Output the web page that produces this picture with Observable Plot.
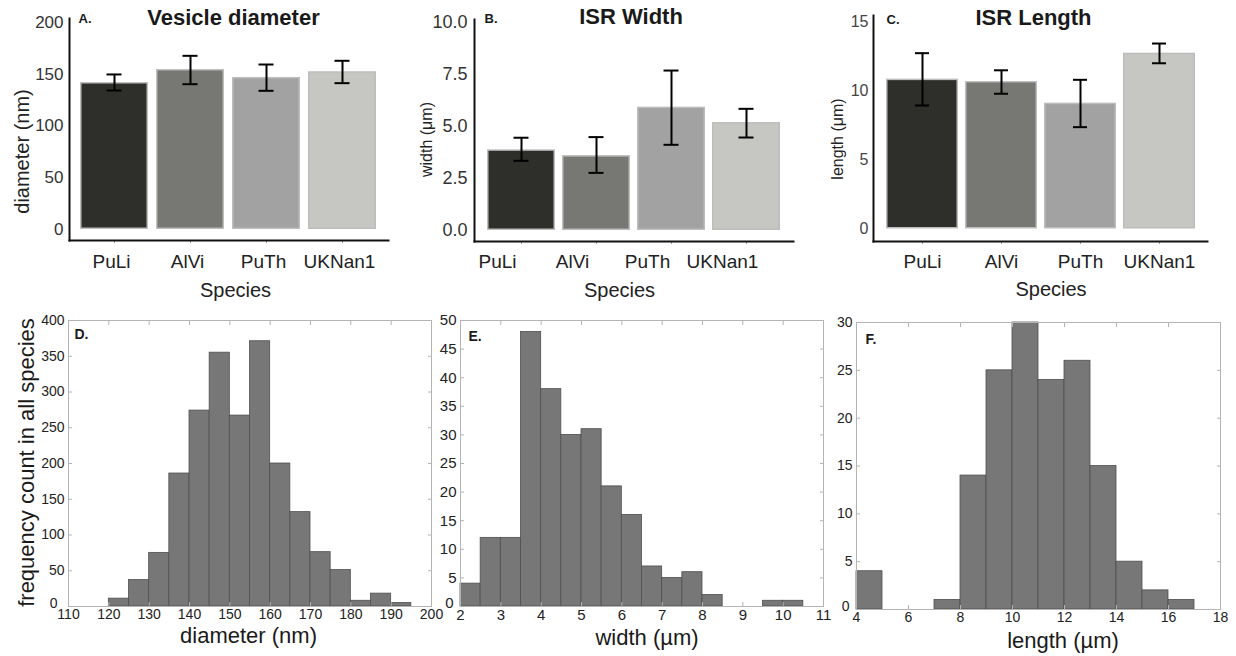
<!DOCTYPE html>
<html><head><meta charset="utf-8">
<script src="https://cdn.jsdelivr.net/npm/d3@7"></script>
<script src="https://cdn.jsdelivr.net/npm/@observablehq/plot@0.6"></script>
<style>
html,body{margin:0;padding:0;background:#fff;}
#root{position:relative;width:1236px;height:656px;overflow:hidden;background:#fff;}
#root svg{position:absolute;overflow:visible;background:none;}
</style></head><body><div id="root"></div>
<script>
// ---------- data ----------
const species = ["PuLi", "AlVi", "PuTh", "UKNan1"];
const barColors = ["#2e2f2a", "#777873", "#a2a2a2", "#c6c7c2"];

const diamMean = [142, 154.6, 146.9, 152.4];
const diamLo   = [134.3, 140.4, 134, 141.4];
const diamHi   = [149.8, 167.8, 159.4, 163];
const diamTicks = [0, 50, 100, 150, 200];

const widthMean = [3.88, 3.6, 5.93, 5.19];
const widthLo   = [3.35, 2.77, 4.12, 4.47];
const widthHi   = [4.46, 4.49, 7.69, 5.85];
const widthTicks = [0, 2.5, 5, 7.5, 10];

const lengthMean = [10.86, 10.69, 9.12, 12.74];
const lengthLo   = [8.95, 9.8, 7.38, 12.01];
const lengthHi   = [12.74, 11.5, 10.81, 13.44];
const lengthTicks = [0, 5, 10, 15];

const diamBinStart = [110, 115, 120, 125, 130, 135, 140, 145, 150, 155, 160, 165, 170, 175, 180, 185, 190];
const diamBinCount = [0, 0, 11, 37, 75, 186, 274, 355, 267, 371, 200, 132, 76, 51, 8, 18, 5];
const diamBinWidth = 5;
const diamHistXTicks = [110, 120, 130, 140, 150, 160, 170, 180, 190, 200];
const diamHistYTicks = [0, 50, 100, 150, 200, 250, 300, 350, 400];

const widthBinStart = [2, 2.5, 3, 3.5, 4, 4.5, 5, 5.5, 6, 6.5, 7, 7.5, 8, 8.5, 9, 9.5, 10];
const widthBinCount = [4, 12, 12, 48, 38, 30, 31, 21, 16, 7, 5, 6, 2, 0, 0, 1, 1];
const widthBinWidth = 0.5;
const widthHistXTicks = [2, 3, 4, 5, 6, 7, 8, 9, 10, 11];
const widthHistYTicks = [0, 5, 10, 15, 20, 25, 30, 35, 40, 45, 50];

const lengthBinStart = [4, 5, 6, 7, 8, 9, 10, 11, 12, 13, 14, 15, 16];
const lengthBinCount = [4, 0, 0, 1, 14, 25, 30, 24, 26, 15, 5, 2, 1];
const lengthBinWidth = 1;
const lengthHistXTicks = [4, 6, 8, 10, 12, 14, 16, 18];
const lengthHistYTicks = [0, 5, 10, 15, 20, 25, 30];

// ---------- layout helpers ----------
const FONT = '"Liberation Sans", Arial, Helvetica, sans-serif';
const root = document.getElementById("root");
function dims(box, f) {
  return {
    width: box.w, height: box.h,
    marginLeft: f.x0 - box.left, marginRight: box.left + box.w - f.x1,
    marginTop: f.y0 - box.top, marginBottom: box.top + box.h - f.y1
  };
}
function place(svg, box) {
  svg.style.left = box.left + "px";
  svg.style.top = box.top + "px";
  root.appendChild(svg);
}
function label(str, opts) {
  return Plot.text([str], {text: d => d, lineAnchor: "middle", ...opts});
}

function barPanel(c) {
  const data = species.map((s, i) => ({species: s, mean: c.mean[i], lo: c.lo[i], hi: c.hi[i]}));
  const svg = Plot.plot({
    ...dims(c.box, c.frame),
    style: {fontFamily: FONT, background: "none", overflow: "visible"},
    x: {type: "band", domain: species, paddingInner: c.padIn, paddingOuter: c.padOut},
    y: {domain: c.yDomain, range: c.yRange},
    color: {domain: species, range: barColors},
    marks: [
      Plot.barY(data, {x: "species", y1: 0, y2: "mean", fill: "species", stroke: "#bdbdbd", strokeWidth: 1.5, inset: 0.75}),
      Plot.ruleX(data, {x: "species", y1: "lo", y2: "hi", stroke: "#000", strokeWidth: 2}),
      Plot.tickY(data, {x: "species", y: "lo", stroke: "#000", strokeWidth: 2, inset: c.capInset}),
      Plot.tickY(data, {x: "species", y: "hi", stroke: "#000", strokeWidth: 2, inset: c.capInset}),
      Plot.axisY({ticks: c.yTicks, tickFormat: c.yFormat, tickSize: 0, tickPadding: c.yPad, stroke: "none", fill: c.tickColor, fontSize: c.yFont, label: null}),
      Plot.axisX({tickSize: 3, stroke: "#a0a0a0", fill: "none", label: null}),
      Plot.axisX({tickSize: 0, tickPadding: c.xPad, stroke: "none", fill: "#222", fontSize: 19, dx: c.xdx, label: null}),
      Plot.frame({anchor: "left", stroke: "#111", strokeWidth: 2}),
      Plot.frame({anchor: "bottom", stroke: "#111", strokeWidth: 2}),
      label(c.title, {frameAnchor: "top", textAnchor: "middle", dx: c.titleDx, dy: c.titleDy, fontSize: 22, fontWeight: "bold", fill: "#1a1a1a"}),
      label(c.letter, {frameAnchor: "top-left", textAnchor: "start", dx: c.letterDx, dy: c.letterDy, fontSize: 13, fontWeight: "bold", fill: "#1a1a1a"}),
      label("Species", {frameAnchor: "bottom", textAnchor: "middle", dx: c.spDx, dy: c.spDy, fontSize: 20, fill: "#222"}),
      label(c.ylabel, {frameAnchor: "left", textAnchor: "middle", rotate: -90, dx: c.ylDx, dy: c.ylDy, fontSize: c.ylFont, fill: "#222"})
    ]
  });
  place(svg, c.box);
}

function histPanel(c) {
  const data = c.start.map((s, i) => ({x1: s, x2: s + c.binWidth, count: c.count[i]}));
  const frameGray = "#b4b4b4";
  const yLabelTicks = c.yTicks.filter(t => t !== c.yDomain[0]);
  const svg = Plot.plot({
    ...dims(c.box, c.frame),
    style: {fontFamily: FONT, background: "none", overflow: "visible"},
    x: {domain: c.xDomain},
    y: {domain: c.yDomain},
    marks: [
      Plot.rectY(data, {x1: "x1", x2: "x2", y1: 0, y2: "count", fill: "#777777", stroke: "#4f4f4f", strokeWidth: 0.8}),
      Plot.frame({stroke: frameGray}),
      Plot.axisX({anchor: "bottom", ticks: c.xTicks, tickSize: 4, dy: -4, stroke: frameGray, fill: "none", label: null}),
      Plot.axisX({anchor: "top", ticks: c.xTicks, tickSize: 4, dy: 4, stroke: frameGray, fill: "none", label: null}),
      Plot.axisY({anchor: "left", ticks: c.yTicks, tickSize: 4, dx: 4, stroke: frameGray, fill: "none", label: null}),
      Plot.axisY({anchor: "right", ticks: c.yTicks, tickSize: 4, dx: -4, stroke: frameGray, fill: "none", label: null}),
      Plot.axisX({anchor: "bottom", ticks: c.xTicks, tickSize: 0, tickPadding: 3, stroke: "none", fill: "#222", fontSize: c.tickFont, label: null}),
      Plot.axisY({anchor: "left", ticks: yLabelTicks, tickSize: 0, tickPadding: 4, stroke: "none", fill: "#222", fontSize: c.tickFont, label: null}),
      Plot.axisY({anchor: "left", ticks: [c.yDomain[0]], tickSize: 0, tickPadding: c.zeroPad, dy: -3, stroke: "none", fill: "#222", fontSize: c.tickFont, label: null}),
      label(c.letter, {frameAnchor: "top-left", textAnchor: "start", dx: c.letterDx, dy: c.letterDy, fontSize: 14, fontWeight: "bold", fill: "#1a1a1a"}),
      label(c.xlabel, {frameAnchor: "bottom", textAnchor: "middle", dx: c.xlDx, dy: c.xlDy, fontSize: 22, fill: "#1a1a1a"}),
      ...(c.ylabel ? [label(c.ylabel, {frameAnchor: "left", textAnchor: "middle", rotate: -90, dx: c.ylDx, dy: c.ylDy, fontSize: 22, fill: "#1a1a1a"})] : [])
    ]
  });
  place(svg, c.box);
}

// ---------- top row ----------
barPanel({
  box: {left: 0, top: 0, w: 412, h: 300}, frame: {x0: 69, x1: 388, y0: 18, y1: 240},
  mean: diamMean, lo: diamLo, hi: diamHi,
  padIn: 0.105, padOut: 0.14, yDomain: [0, 200], yRange: [229, 22], yTicks: diamTicks, yFormat: d => String(d),
  yPad: 6, yFont: 17, tickColor: "#333", xPad: 14, xdx: -3, capInset: 26.5,
  title: "Vesicle diameter", titleDx: 4.5, titleDy: -0.5,
  letter: "A.", letterDx: 9, letterDy: 0,
  spDx: 6.5, spDy: 50,
  ylabel: "diameter (nm)", ylDx: -47, ylDy: 22, ylFont: 20
});
barPanel({
  box: {left: 412, top: 0, w: 412, h: 300}, frame: {x0: 474, x1: 793, y0: 19, y1: 241},
  mean: widthMean, lo: widthLo, hi: widthHi,
  padIn: 0.1, padOut: 0.15, yDomain: [0, 10], yRange: [230, 22], yTicks: widthTicks, yFormat: d => d.toFixed(1),
  yPad: 7, yFont: 18, tickColor: "#333", xPad: 13, xdx: -24, capInset: 26.5,
  title: "ISR Width", titleDx: -3, titleDy: -2.3,
  letter: "B.", letterDx: 10, letterDy: -1,
  spDx: -14.5, spDy: 49,
  ylabel: "width (μm)", ylDx: -48, ylDy: 9, ylFont: 16
});
barPanel({
  box: {left: 824, top: 0, w: 412, h: 300}, frame: {x0: 873, x1: 1207, y0: 15, y1: 241},
  mean: lengthMean, lo: lengthLo, hi: lengthHi,
  padIn: 0.09, padOut: 0.14, yDomain: [0, 15], yRange: [228.5, 21.5], yTicks: lengthTicks, yFormat: d => String(d),
  yPad: 5, yFont: 16, tickColor: "#444", xPad: 13, xdx: 0, capInset: 29,
  title: "ISR Length", titleDx: -7, titleDy: 2,
  letter: "C.", letterDx: 13, letterDy: 4,
  spDx: 10.5, spDy: 48,
  ylabel: "length (μm)", ylDx: -36, ylDy: 10.5, ylFont: 16
});

// ---------- bottom row ----------
histPanel({
  box: {left: 0, top: 300, w: 440, h: 356}, frame: {x0: 68, x1: 431, y0: 320, y1: 606},
  start: diamBinStart, count: diamBinCount, binWidth: diamBinWidth,
  xDomain: [110, 200], yDomain: [0, 400], xTicks: diamHistXTicks, yTicks: diamHistYTicks, tickFont: 14, zeroPad: 11,
  letter: "D.", letterDx: 6, letterDy: 14,
  xlabel: "diameter (nm)", xlDx: -1.5, xlDy: 29,
  ylabel: "frequency count in all species", ylDx: -42, ylDy: -1
});
histPanel({
  box: {left: 440, top: 300, w: 396, h: 356}, frame: {x0: 460, x1: 823, y0: 320, y1: 606},
  start: widthBinStart, count: widthBinCount, binWidth: widthBinWidth,
  xDomain: [2, 11], yDomain: [0, 50], xTicks: widthHistXTicks, yTicks: widthHistYTicks, tickFont: 15, zeroPad: 7,
  letter: "E.", letterDx: 8, letterDy: 16,
  xlabel: "width (µm)", xlDx: 5, xlDy: 31
});
histPanel({
  box: {left: 836, top: 300, w: 400, h: 356}, frame: {x0: 856, x1: 1220, y0: 322, y1: 609},
  start: lengthBinStart, count: lengthBinCount, binWidth: lengthBinWidth,
  xDomain: [4, 18], yDomain: [0, 30], xTicks: lengthHistXTicks, yTicks: lengthHistYTicks, tickFont: 14, zeroPad: 7,
  letter: "F.", letterDx: 9, letterDy: 17,
  xlabel: "length (µm)", xlDx: 24.5, xlDy: 31
});
</script>
</body></html>
